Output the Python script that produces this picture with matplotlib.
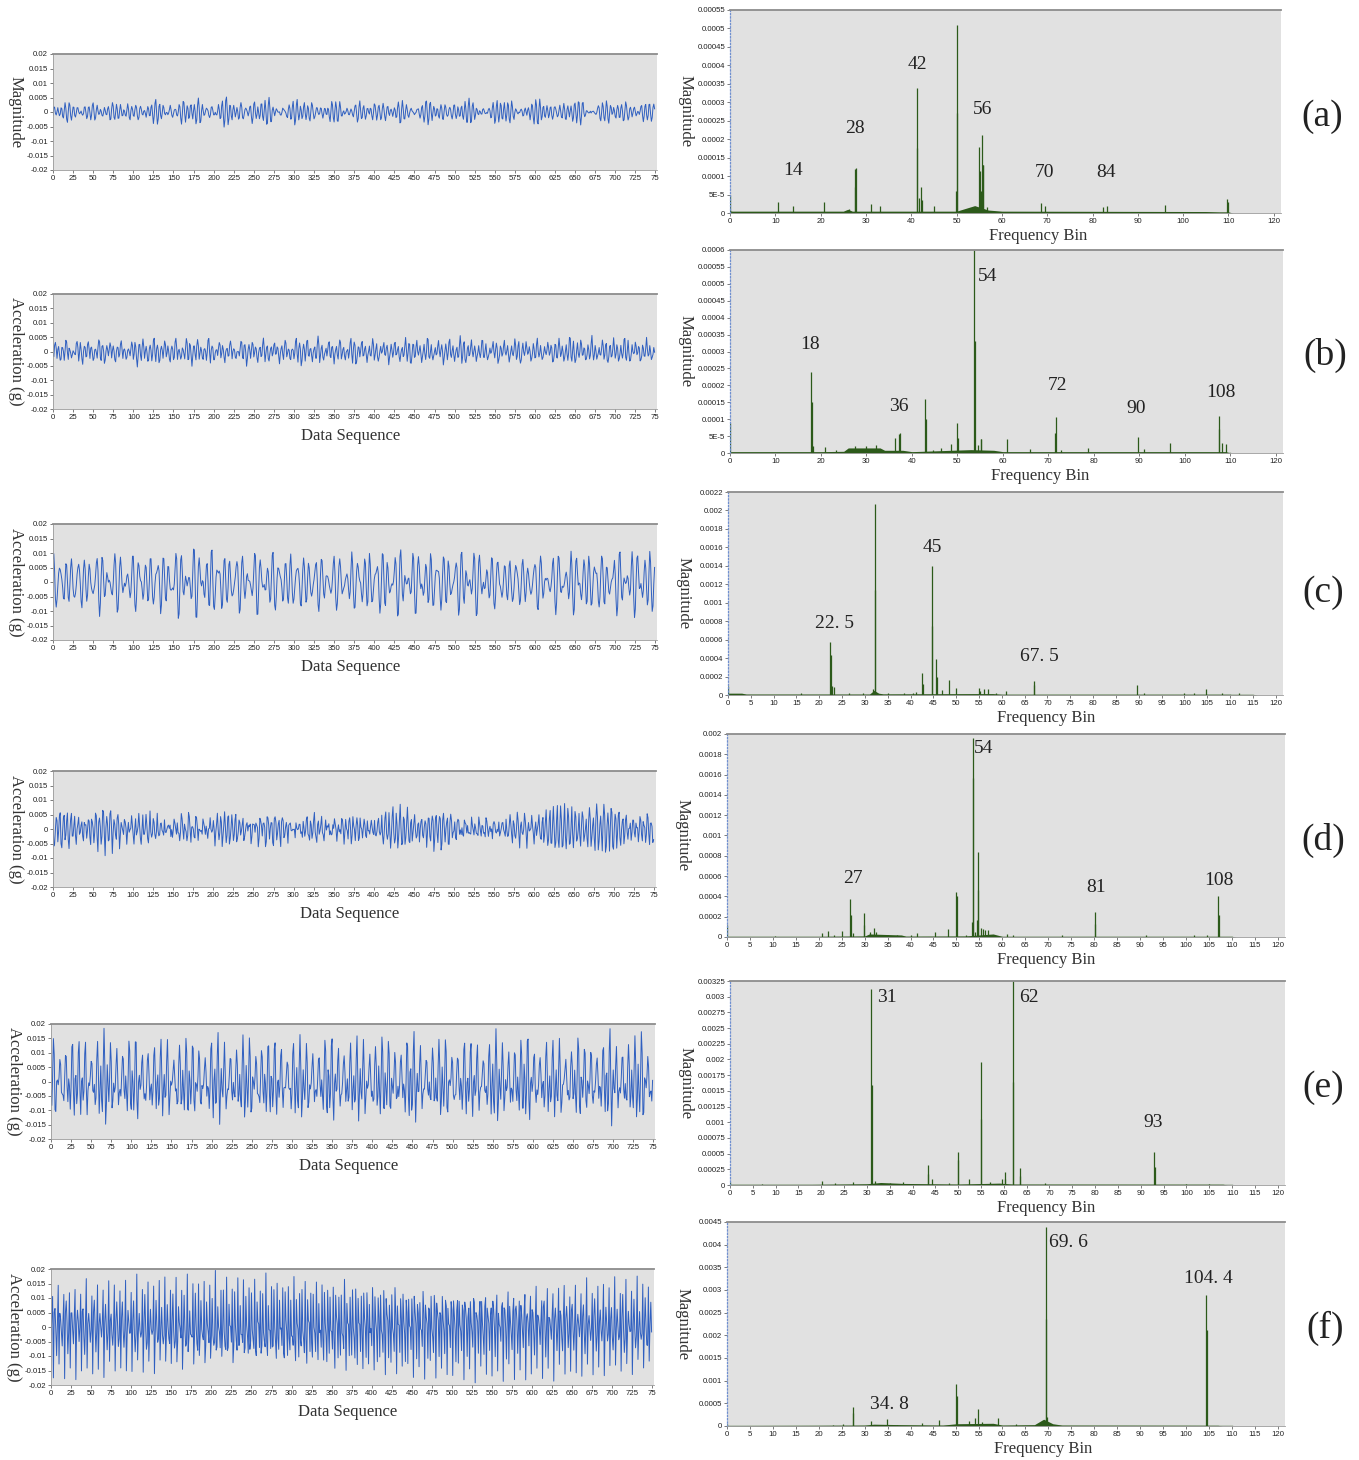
import numpy as np
import matplotlib
matplotlib.use("Agg")
import matplotlib.pyplot as plt

# ---------------- data ----------------
FS = 244.0          # sampling rate implied by the frequency axis (Nyquist ~122)
N_SAMPLES = 750

panel_keys = ["(a)", "(b)", "(c)", "(d)", "(e)", "(f)"]
left_ylabels = ["Magnitude", "Acceleration (g)", "Acceleration (g)",
                "Acceleration (g)", "Acceleration (g)", "Acceleration (g)"]
left_xlabels = ["", "Data Sequence", "Data Sequence", "Data Sequence",
                "Data Sequence", "Data Sequence"]
ts_peak = [0.0052, 0.0056, 0.0125, 0.0092, 0.0185, 0.0195]

left_yticklabels = ["-0.02", "-0.015", "-0.01", "-0.005", "0", "0.005", "0.01", "0.015", "0.02"]
left_xtick_values = list(range(0, 751, 25))
left_xticklabels = [str(v) for v in left_xtick_values[:-1]] + ["75"]

# spectrum (a)
a_freq = [0.1, 10.5, 14.0, 20.8, 26.3, 27.5, 27.6, 27.9, 31.2, 33.2, 41.2, 41.3, 41.6, 42.2, 42.4,
          45.0, 49.9, 50.0, 50.1, 52.0, 55.0, 55.2, 55.4, 55.6, 55.8, 55.9, 56.8, 68.6, 69.6,
          82.3, 83.2, 96.0, 109.7, 109.8]
a_amp = [0.00005, 0.00003, 0.00002, 0.00003, 0.00001, 0.00012, 0.00007, 0.000122, 0.000025, 0.00002,
         0.00034, 0.000175, 0.00004, 0.00007, 0.000035, 0.00002, 0.00006, 0.00051, 0.00027, 0.00001,
         0.00018, 0.000115, 0.00006, 0.00021, 0.00013, 0.00013, 0.000015, 0.000027, 0.00002,
         0.000017, 0.000018, 0.000022, 0.000037, 0.00003]
a_floor_x = [0, 0.5, 25, 26, 27, 30, 50, 54, 57, 60, 105, 108, 110, 111]
a_floor_y = [6e-6, 5e-6, 5e-6, 1e-5, 5e-6, 5e-6, 5e-6, 2e-5, 8e-6, 5e-6, 4e-6, 3e-6, 3e-6, 0]
a_yticklabels = ["0", "5E-5", "0.0001", "0.00015", "0.0002", "0.00025", "0.0003", "0.00035",
                 "0.0004", "0.00045", "0.0005", "0.00055"]
a_xstep = 10
a_lab_text = ["14", "28", "42", "56", "70", "84"]
a_lab_x = [13.9, 27.5, 41.3, 55.7, 69.3, 82.9]
a_lab_y = [0.000116, 0.000229, 0.000402, 0.00028, 0.000111, 0.000111]

# spectrum (b)
b_freq = [0.1, 17.9, 18.0, 18.2, 20.8, 23.2, 26.2, 27.5, 29.8, 32.0, 36.2, 37.2, 37.3, 42.9, 43.0,
          44.6, 46.5, 48.6, 50.0, 50.1, 53.7, 53.8, 54.6, 55.1, 55.3, 61.0, 66.0, 71.5, 71.6, 72.8,
          78.8, 89.8, 91.1, 96.8, 107.5, 107.6, 108.1, 109.0]
b_amp = [0.00009, 0.00024, 0.00015, 0.00002, 0.000018, 0.00001, 0.000012, 0.00002, 0.00002, 0.000025,
         0.000045, 0.000055, 0.00006, 0.00016, 0.0001, 0.00001, 0.000015, 0.000027, 0.000088, 0.000045,
         0.0006, 0.00033, 0.000025, 0.00004, 0.00004, 0.00004, 0.000013, 0.000058, 0.000105, 0.00001,
         0.000015, 0.000047, 0.000012, 0.00003, 0.00007, 0.00011, 0.00003, 0.000028]
b_floor_x = [0, 20, 25, 26, 33, 34, 38, 40, 53, 58, 60, 109, 110]
b_floor_y = [4e-6, 4e-6, 5e-6, 1.5e-5, 1.5e-5, 8e-6, 8e-6, 4e-6, 1e-5, 8e-6, 4e-6, 4e-6, 0]
b_yticklabels = ["0", "5E-5", "0.0001", "0.00015", "0.0002", "0.00025", "0.0003", "0.00035",
                 "0.0004", "0.00045", "0.0005", "0.00055", "0.0006"]
b_xstep = 10
b_lab_text = ["18", "36", "54", "72", "90", "108"]
b_lab_x = [17.6, 37.2, 56.7, 72.0, 89.2, 108.0]
b_lab_y = [0.00032, 0.000138, 0.000522, 0.0002, 0.000133, 0.000179]

# spectrum (c)
c_freq = [0.1, 16.0, 22.4, 22.5, 22.7, 23.3, 26.5, 29.5, 31.8, 32.2, 32.3, 35.0, 38.5, 40.5, 41.3,
          42.6, 42.7, 44.7, 44.8, 45.6, 45.7, 46.8, 48.4, 50.0, 55.0, 55.2, 56.0, 57.0, 58.8, 61.0,
          67.0, 67.1, 89.6, 91.2, 99.8, 102.1, 104.7, 108.3, 111.9]
c_amp = [0.0001, 0.00002, 0.00057, 0.00043, 0.0001, 0.00009, 0.00002, 0.00002, 0.00007, 0.00207,
         0.00114, 0.00002, 0.00002, 0.00002, 0.00003, 0.00024, 0.00012, 0.0014, 0.00075, 0.00039,
         0.0002, 0.00005, 0.00016, 0.00008, 0.00008, 0.00004, 0.00007, 0.00006, 0.00002, 0.00004,
         0.00011, 0.00015, 0.00011, 0.00002, 0.00002, 0.00002, 0.00006, 0.00002, 0.00002]
c_floor_x = [0, 3, 4, 31, 32, 33, 34, 54, 58, 60, 115, 116]
c_floor_y = [2e-5, 2e-5, 1e-5, 1e-5, 5e-5, 2e-5, 1.2e-5, 1.5e-5, 1.5e-5, 8e-6, 8e-6, 0]
c_yticklabels = ["0", "0.0002", "0.0004", "0.0006", "0.0008", "0.001", "0.0012", "0.0014",
                 "0.0016", "0.0018", "0.002", "0.0022"]
c_xstep = 5
c_lab_text = ["22. 5", "45", "67. 5"]
c_lab_x = [23.4, 44.7, 68.2]
c_lab_y = [0.00077, 0.0016, 0.00042]

# spectrum (d)
d_freq = [0.1, 10.5, 20.8, 22.0, 23.3, 25.0, 26.9, 27.0, 27.4, 29.8, 29.9, 31.2, 32.0, 32.5, 35.0,
          37.0, 40.2, 41.5, 45.3, 48.2, 50.0, 50.1, 52.0, 53.3, 53.6, 53.7, 54.0, 54.5, 54.7, 54.8,
          55.3, 55.8, 56.3, 56.8, 61.0, 62.3, 72.9, 80.2, 80.3, 91.2, 101.8, 104.5, 107.1, 107.2]
d_amp = [0.00012, 0.00001, 0.00004, 0.00006, 0.00002, 0.00006, 0.00037, 0.00022, 0.00004, 0.00024,
         0.00012, 0.00005, 0.00009, 0.00005, 0.00002, 0.00002, 0.00002, 0.00004, 0.00005, 0.00008,
         0.00044, 0.0004, 0.00002, 0.00015, 0.00196, 0.00157, 0.00005, 0.00017, 0.00084, 0.00046,
         0.00009, 0.00008, 0.00007, 0.00007, 0.00003, 0.00002, 0.00002, 0.00025, 0.00013, 0.00002,
         0.00002, 0.00002, 0.0004, 0.00022]
d_floor_x = [0, 20, 30, 31, 38, 39, 52, 58, 60, 110, 111]
d_floor_y = [6e-6, 6e-6, 1e-5, 3e-5, 2e-5, 8e-6, 1e-5, 3e-5, 6e-6, 6e-6, 0]
d_yticklabels = ["0", "0.0002", "0.0004", "0.0006", "0.0008", "0.001", "0.0012", "0.0014",
                 "0.0016", "0.0018", "0.002"]
d_xstep = 5
d_lab_text = ["27", "54", "81", "108"]
d_lab_x = [27.5, 56.0, 80.5, 107.2]
d_lab_y = [0.00058, 0.00186, 0.00049, 0.00056]

# spectrum (e)
e_freq = [0.1, 7.0, 20.2, 23.0, 27.0, 31.0, 31.1, 31.8, 35.0, 37.8, 43.3, 43.4, 44.2, 48.0, 49.9,
          50.0, 52.4, 55.0, 55.1, 57.0, 59.5, 60.2, 60.3, 62.0, 62.1, 63.5, 63.6, 69.0, 93.0, 93.1,
          100.0, 105.0]
e_amp = [0.00004, 0.00001, 0.00007, 0.00003, 0.00004, 0.00313, 0.0016, 0.00006, 0.00003, 0.00004,
         0.00032, 0.00017, 0.0001, 0.00003, 0.0004, 0.00052, 0.0001, 0.00196, 0.00105, 0.00005,
         0.0001, 0.0002, 0.0001, 0.00325, 0.00164, 0.00027, 0.00015, 0.00003, 0.00053, 0.00028,
         0.00002, 0.00002]
e_floor_x = [0, 18, 30, 33, 38, 50, 59, 62, 108, 109]
e_floor_y = [1e-5, 1e-5, 2e-5, 4e-5, 2.5e-5, 1.5e-5, 3e-5, 1.5e-5, 1.2e-5, 0]
e_yticklabels = ["0", "0.00025", "0.0005", "0.00075", "0.001", "0.00125", "0.0015", "0.00175",
                 "0.002", "0.00225", "0.0025", "0.00275", "0.003", "0.00325"]
e_xstep = 5
e_lab_text = ["31", "62", "93"]
e_lab_x = [34.3, 65.5, 92.8]
e_lab_y = [0.00298, 0.00298, 0.00099]

# spectrum (f)
f_freq = [0.1, 15.0, 23.0, 25.3, 27.4, 27.5, 31.3, 34.8, 37.0, 42.4, 46.3, 50.0, 50.05, 52.8, 54.0,
          54.8, 55.5, 59.0, 63.0, 69.5, 69.6, 69.8, 104.4, 104.5]
f_amp = [0.00005, 0.00001, 0.00002, 0.00005, 0.00042, 0.00028, 0.00012, 0.00015, 0.00003, 0.00006,
         0.00014, 0.00093, 0.00066, 0.0001, 0.00017, 0.00037, 0.00008, 0.00018, 0.00005, 0.00235,
         0.0044, 0.0002, 0.0029, 0.00212]
f_floor_x = [0, 20, 30, 32, 38, 47, 50, 58, 60, 67, 69, 71, 73, 107, 108]
f_floor_y = [1e-5, 1.5e-5, 2e-5, 4e-5, 3e-5, 2e-5, 5e-5, 6e-5, 2e-5, 3e-5, 1.5e-4, 5e-5, 2e-5, 1.5e-5, 0]
f_yticklabels = ["0", "0.0005", "0.001", "0.0015", "0.002", "0.0025", "0.003", "0.0035",
                 "0.004", "0.0045"]
f_xstep = 5
f_lab_text = ["34. 8", "69. 6", "104. 4"]
f_lab_x = [35.5, 74.4, 104.8]
f_lab_y = [0.00047, 0.00405, 0.00326]

# phase of each tone (not visible in the spectra, chosen for the waveforms)
PHASES = [0.3, 2.1, 4.4, 1.2, 5.6, 3.3, 0.8, 2.9, 4.9, 1.7, 6.0, 3.8, 0.5, 2.5, 4.1, 1.0, 5.2, 3.0,
          0.1, 2.2, 4.7, 1.5, 5.8, 3.6, 0.6, 2.7, 4.3, 1.9, 5.4, 3.1, 0.9, 2.4, 4.6, 1.3, 5.9, 3.5,
          0.4, 2.0, 4.8, 1.6, 5.5, 3.2, 0.7, 2.6]

spectra = [
    (a_freq, a_amp, a_floor_x, a_floor_y, a_yticklabels, a_xstep, a_lab_text, a_lab_x, a_lab_y),
    (b_freq, b_amp, b_floor_x, b_floor_y, b_yticklabels, b_xstep, b_lab_text, b_lab_x, b_lab_y),
    (c_freq, c_amp, c_floor_x, c_floor_y, c_yticklabels, c_xstep, c_lab_text, c_lab_x, c_lab_y),
    (d_freq, d_amp, d_floor_x, d_floor_y, d_yticklabels, d_xstep, d_lab_text, d_lab_x, d_lab_y),
    (e_freq, e_amp, e_floor_x, e_floor_y, e_yticklabels, e_xstep, e_lab_text, e_lab_x, e_lab_y),
    (f_freq, f_amp, f_floor_x, f_floor_y, f_yticklabels, f_xstep, f_lab_text, f_lab_x, f_lab_y),
]

# ---------------- layout (pixel boxes of the reference) ----------------
W, H = 1359, 1460
left_boxes = [(53, 54, 657, 170), (53, 294, 657, 409), (53, 524, 657, 640),
              (53, 771, 656, 887), (51, 1024, 655, 1139), (51, 1269, 654, 1385)]
right_boxes = [(730, 10, 1281, 213), (730, 250, 1283, 453), (728, 492, 1283, 695),
               (727, 734, 1285, 937), (730, 981, 1285, 1185), (727, 1222, 1285, 1426)]
right_xlabel_cx = [1038, 1040, 1046, 1046, 1046, 1043]
key_pos = [(1322, 117), (1325, 355), (1323, 593), (1323, 840), (1323, 1088), (1325, 1328)]

BG = "#e1e1e1"
SPINE = "#9a9a9a"
BLUE = "#2f5fc0"
GREEN = "#2c5a1a"
SERIF = ["Liberation Serif", "DejaVu Serif"]
TICKFONT = ["Liberation Sans", "DejaVu Sans"]

plt.rcParams["font.family"] = TICKFONT


def box_to_rect(b):
    x0, y0, x1, y1 = b
    return [x0 / W, 1 - y1 / H, (x1 - x0) / W, (y1 - y0) / H]


def style_axes(ax):
    ax.set_facecolor(BG)
    ax.spines["right"].set_visible(False)
    ax.spines["top"].set_color("#8c8c8c")
    ax.spines["top"].set_linewidth(1.3)
    ax.spines["bottom"].set_color(SPINE)
    ax.spines["bottom"].set_linewidth(0.6)
    ax.spines["left"].set_color(SPINE)
    ax.spines["left"].set_linewidth(0.6)
    ax.tick_params(labelsize=5.6, length=2, width=0.6, color="#666666", pad=1.5,
                   labelcolor="#222222")


def merge_tones(freq, amp, tol=0.35):
    """Merge spectral lines that are leakage of one tone into a single tone."""
    order = np.argsort(freq)
    tones = []
    for j in order:
        f, a = freq[j], amp[j]
        if f < 1:
            continue
        if tones and f - tones[-1][2] <= tol:
            tones[-1][1] += a
            if a > tones[-1][3]:
                tones[-1][0] = f
                tones[-1][3] = a
        else:
            tones.append([f, a, f, a])
    return [(tn[0], tn[1]) for tn in tones]


fig = plt.figure(figsize=(W / 100, H / 100), dpi=100)
t = np.arange(N_SAMPLES)

for i in range(6):
    freq, amp, fx, fy, ytl, xstep, lab_text, lab_x, lab_y = spectra[i]

    # ---- time series (left), built from the spectral components ----
    axl = fig.add_axes(box_to_rect(left_boxes[i]))
    style_axes(axl)
    sig = np.zeros(N_SAMPLES)
    for k, (f, a) in enumerate(merge_tones(freq, amp)):
        sig += a * np.sin(2 * np.pi * f * t / FS + PHASES[k % len(PHASES)])
    sig = sig / np.max(np.abs(sig)) * ts_peak[i]
    axl.plot(t, sig, color=BLUE, lw=0.7)
    axl.set_xlim(0, 752)
    axl.set_ylim(-0.02, 0.02)
    yvals = [float(s) for s in left_yticklabels]
    axl.set_yticks(yvals)
    axl.set_yticklabels(left_yticklabels)
    axl.set_xticks(left_xtick_values)
    axl.set_xticklabels(left_xticklabels)
    axl.set_ylabel(left_ylabels[i], fontsize=12, family=SERIF, rotation=270,
                   color="#333333")
    axl.yaxis.set_label_coords(-0.062, 0.5)
    axl.yaxis.label.set_va("center")
    axl.yaxis.label.set_ha("center")
    if left_xlabels[i]:
        axl.set_xlabel(left_xlabels[i], fontsize=12, family=SERIF, color="#333333")
        axl.xaxis.set_label_coords(0.492, -0.235)
        axl.xaxis.label.set_va("center")

    # ---- spectrum (right) ----
    axr = fig.add_axes(box_to_rect(right_boxes[i]))
    style_axes(axr)
    axr.spines["left"].set_color("#6f8fd0")
    axr.spines["left"].set_linestyle(":")
    axr.spines["left"].set_linewidth(0.9)
    axr.fill_between(fx, 0, fy, color=GREEN, lw=0)
    axr.vlines(freq, 0, amp, color=GREEN, lw=0.9)
    axr.axhline(0, color=GREEN, lw=1.0, xmax=110 / 121.6)
    ymax = float(ytl[-1])
    axr.set_xlim(0, 121.6)
    axr.set_ylim(0, ymax)
    axr.set_yticks([float(s) for s in ytl])
    axr.set_yticklabels(ytl)
    xt = list(range(0, 121, xstep))
    axr.set_xticks(xt)
    axr.set_xticklabels([str(v) for v in xt])
    axr.set_ylabel("Magnitude", fontsize=12, family=SERIF, rotation=270, color="#333333")
    axr.yaxis.set_label_coords(-0.08, 0.5)
    axr.yaxis.label.set_va("center")
    axr.yaxis.label.set_ha("center")
    axr.set_xlabel("Frequency Bin", fontsize=12, family=SERIF, color="#333333")
    x0, _, x1, _ = right_boxes[i]
    axr.xaxis.set_label_coords((right_xlabel_cx[i] - x0) / (x1 - x0), -0.112)
    axr.xaxis.label.set_va("center")
    for s, x, y in zip(lab_text, lab_x, lab_y):
        axr.text(x, y, s, ha="center", va="center", fontsize=14, family=SERIF,
                 color="#222222")

    kx, ky = key_pos[i]
    fig.text(kx / W, 1 - ky / H, panel_keys[i], ha="center", va="center",
             fontsize=27, family=SERIF, color="#222222")

fig.savefig("out.png", dpi=100)
